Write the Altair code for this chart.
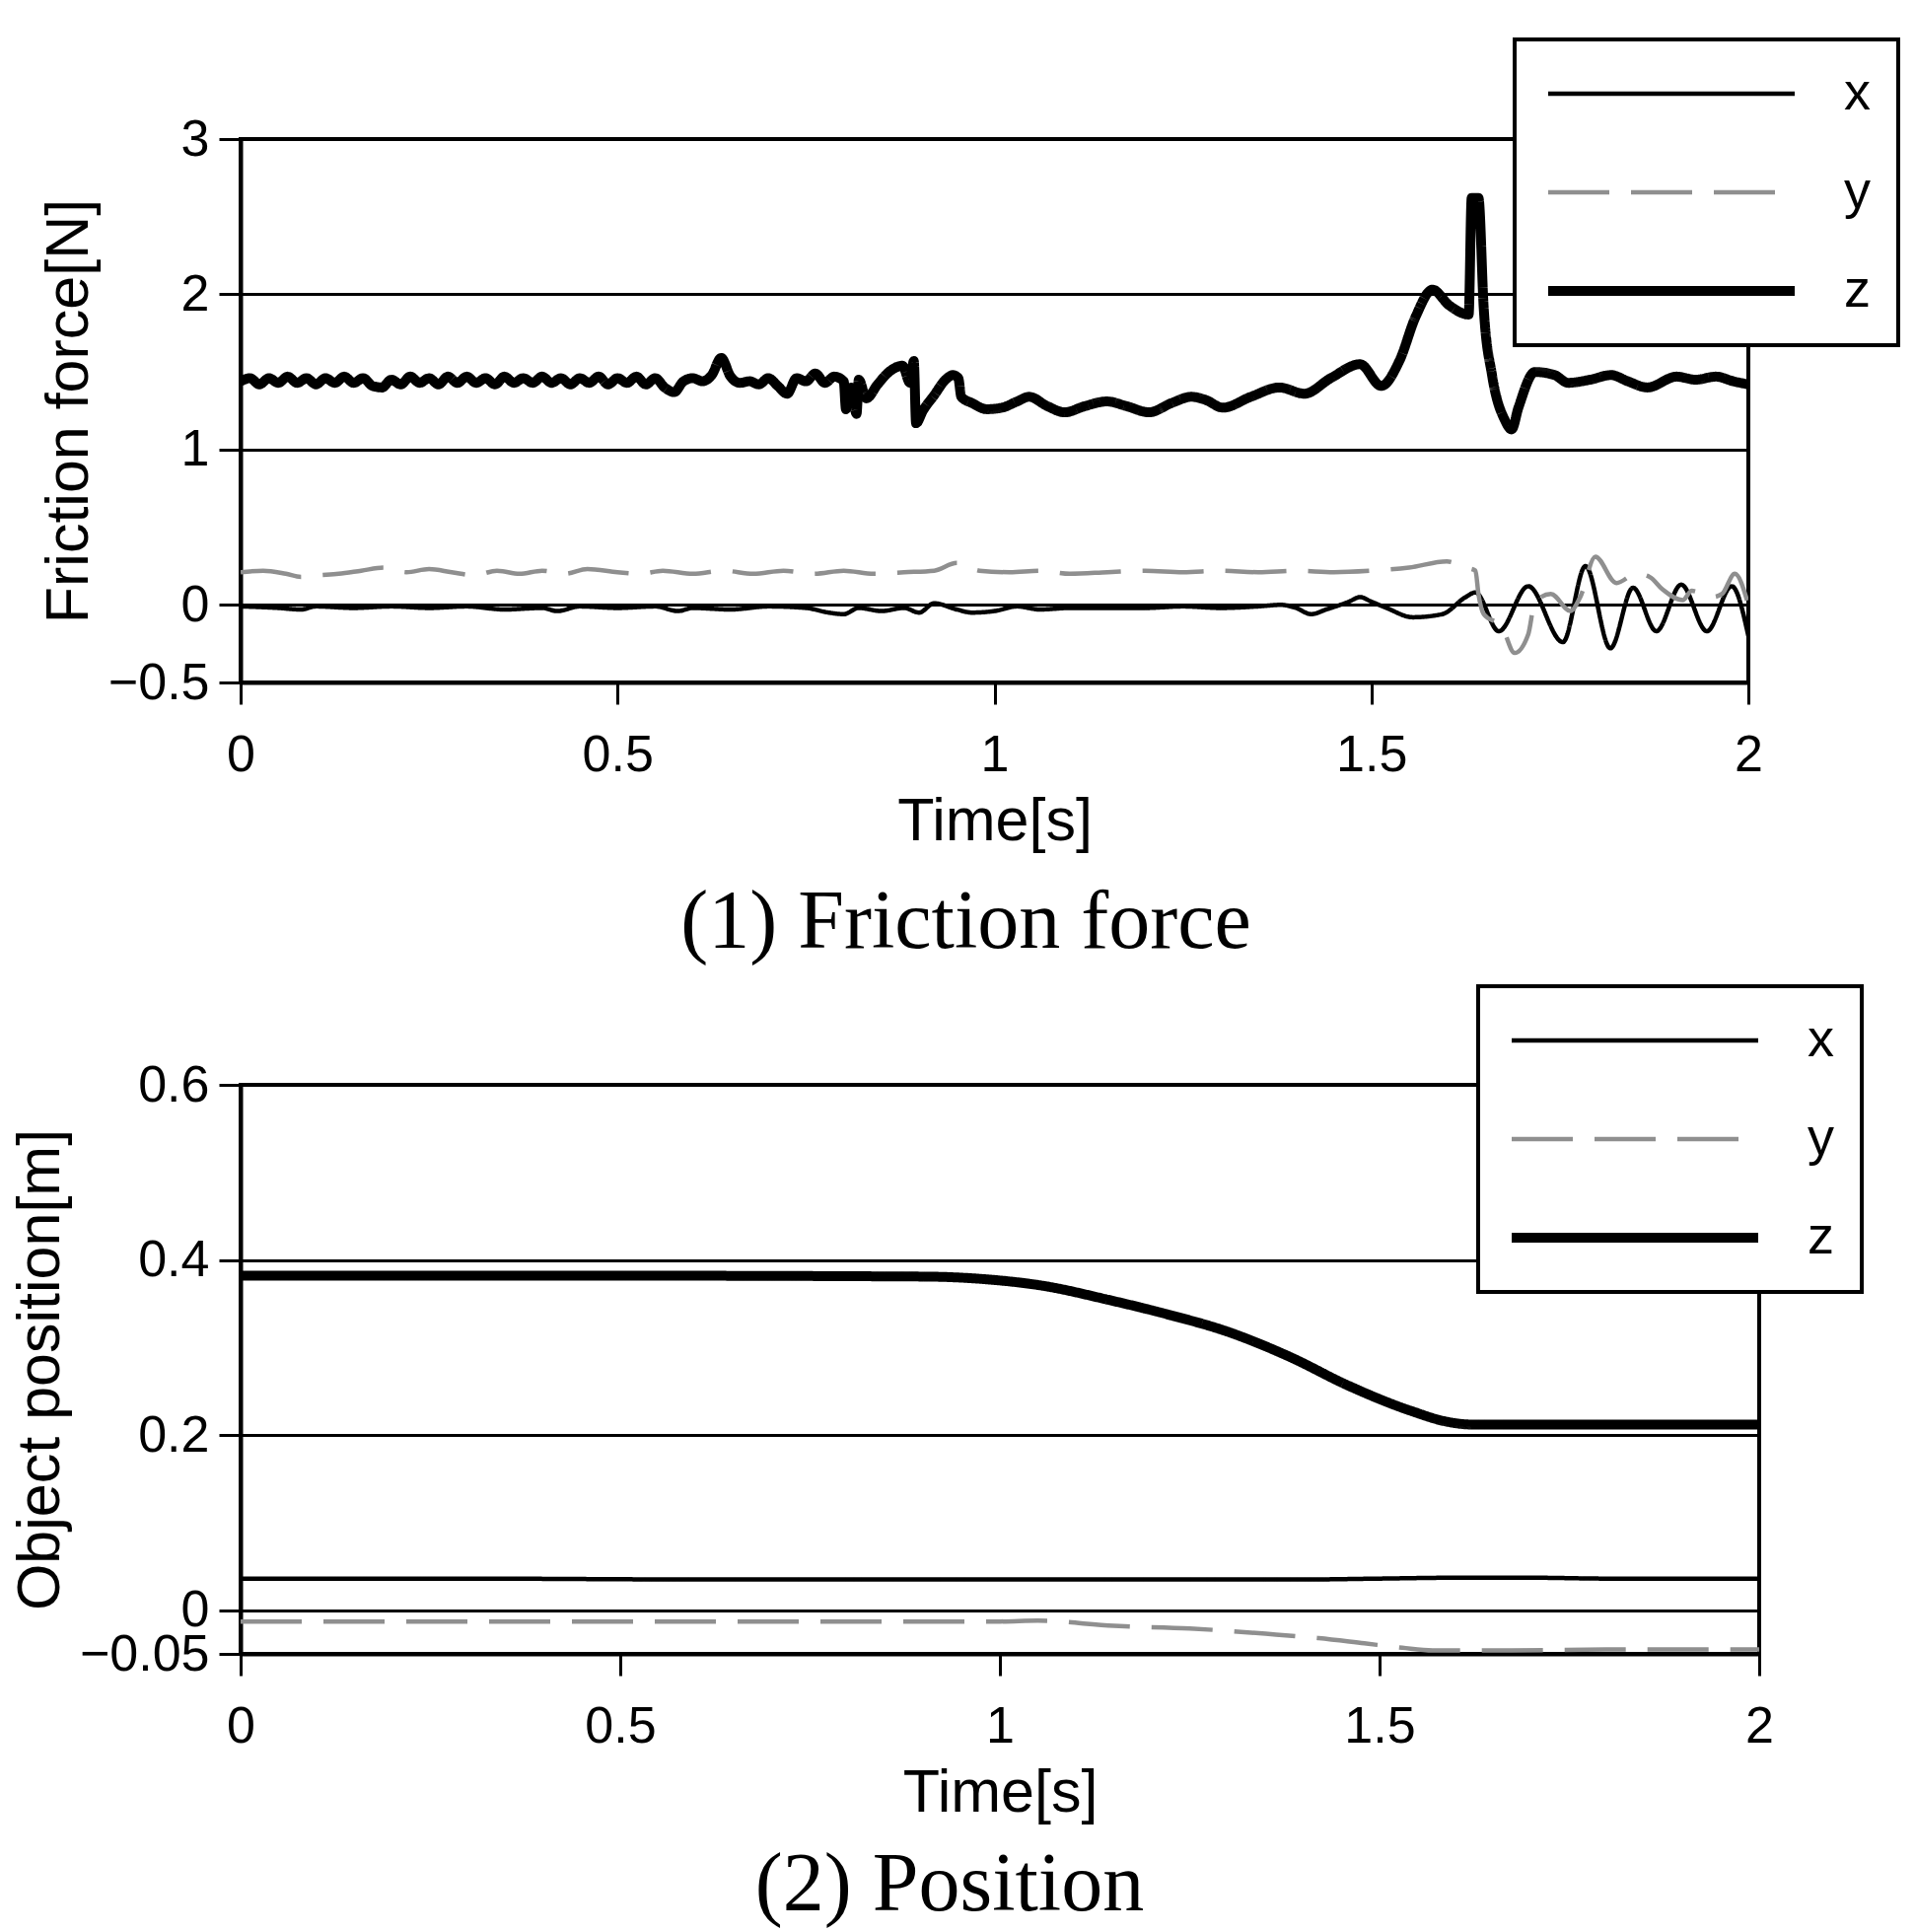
import altair as alt
import pandas as pd

SERIES = ["x", "y", "z"]
TIME_TICKS = [0, 0.5, 1, 1.5, 2]
FORCE_TICKS = [-0.5, 0, 1, 2, 3]
POS_TICKS = [-0.05, 0, 0.2, 0.4, 0.6]

# ---------------- (1) Friction force ----------------
# z component: dense ripple section (sampled every 0.0125 s) then irregular part
fz_t = [round(i * 0.0125, 4) for i in range(64)] + [
    0.80, 0.803, 0.81, 0.817, 0.82, 0.83, 0.845, 0.86, 0.878, 0.888,
    0.893, 0.896, 0.905, 0.92, 0.935, 0.945, 0.952, 0.956, 0.97, 0.99,
    1.01, 1.03, 1.046, 1.07, 1.093, 1.12, 1.149, 1.175, 1.205, 1.235,
    1.261, 1.28, 1.303, 1.34, 1.378, 1.411, 1.446, 1.485, 1.513, 1.537,
    1.559, 1.581, 1.603, 1.629, 1.633, 1.642, 1.649, 1.66, 1.677, 1.686,
    1.695, 1.717, 1.743, 1.761, 1.79, 1.818, 1.84, 1.866, 1.905, 1.93,
    1.957, 1.98, 2.0]
fz_v = [
    1.44, 1.46, 1.42, 1.46, 1.43, 1.47, 1.43, 1.46, 1.42, 1.46,
    1.43, 1.47, 1.43, 1.46, 1.41, 1.40, 1.45, 1.42, 1.47, 1.43,
    1.46, 1.42, 1.47, 1.43, 1.47, 1.43, 1.46, 1.42, 1.47, 1.43,
    1.46, 1.43, 1.47, 1.43, 1.46, 1.42, 1.46, 1.43, 1.47, 1.42,
    1.46, 1.43, 1.47, 1.42, 1.46, 1.40, 1.37, 1.44, 1.46, 1.44,
    1.48, 1.59, 1.47, 1.43, 1.44, 1.42, 1.46, 1.41, 1.36, 1.46,
    1.44, 1.49, 1.43, 1.47,
    1.44, 1.26, 1.40, 1.23, 1.45, 1.33, 1.42, 1.50, 1.54, 1.43,
    1.57, 1.17, 1.25, 1.35, 1.45, 1.48, 1.46, 1.34, 1.30, 1.26,
    1.27, 1.31, 1.34, 1.28, 1.24, 1.28, 1.31, 1.28, 1.24, 1.30,
    1.34, 1.32, 1.27, 1.34, 1.40, 1.36, 1.46, 1.55, 1.41, 1.57,
    1.86, 2.03, 1.93, 1.87, 2.62, 2.62, 1.91, 1.48, 1.19, 1.13,
    1.27, 1.50, 1.48, 1.43, 1.45, 1.48, 1.44, 1.40, 1.47, 1.45,
    1.47, 1.44, 1.42]

fx_t = [0, 0.05, 0.08, 0.1, 0.15, 0.2, 0.25, 0.3, 0.35, 0.4,
        0.42, 0.45, 0.5, 0.55, 0.58, 0.6, 0.65, 0.7, 0.75, 0.78,
        0.8, 0.82, 0.85, 0.88, 0.9, 0.92, 0.95, 0.97, 1.0, 1.03,
        1.06, 1.1, 1.15, 1.2, 1.25, 1.3, 1.35, 1.38, 1.4, 1.42,
        1.44, 1.47, 1.485, 1.5, 1.52, 1.555, 1.594, 1.625, 1.638, 1.669,
        1.708, 1.754, 1.784, 1.817, 1.847, 1.878, 1.911, 1.945, 1.978, 2.0]
fx_v = [-0.01, -0.02, -0.03, -0.01, -0.02, -0.01, -0.02, -0.01, -0.03, -0.02,
        -0.04, -0.01, -0.02, -0.01, -0.04, -0.02, -0.03, -0.01, -0.02, -0.05,
        -0.06, -0.02, -0.04, -0.02, -0.05, 0.01, -0.03, -0.05, -0.04, -0.01,
        -0.03, -0.02, -0.02, -0.02, -0.01, -0.02, -0.01, 0.0, -0.02, -0.06,
        -0.03, 0.02, 0.05, 0.02, -0.02, -0.08, -0.06, 0.05, 0.08, -0.17,
        0.12, -0.24, 0.25, -0.28, 0.11, -0.17, 0.13, -0.17, 0.12, -0.2]

fy_t = [0, 0.03, 0.06, 0.08, 0.1, 0.13, 0.16, 0.19, 0.22, 0.25,
        0.28, 0.31, 0.34, 0.37, 0.4, 0.43, 0.46, 0.5, 0.53, 0.56,
        0.6, 0.64, 0.68, 0.72, 0.76, 0.8, 0.84, 0.88, 0.92, 0.95,
        0.98, 1.02, 1.06, 1.1, 1.15, 1.2, 1.25, 1.3, 1.35, 1.4,
        1.45, 1.5, 1.55, 1.6, 1.625, 1.638, 1.642, 1.649, 1.673, 1.69,
        1.708, 1.717, 1.738, 1.764, 1.777, 1.797, 1.825, 1.851, 1.869, 1.886,
        1.913, 1.925, 1.952, 1.965, 1.982, 2.0]
fy_v = [0.21, 0.22, 0.20, 0.18, 0.19, 0.20, 0.22, 0.24, 0.21, 0.23,
        0.21, 0.19, 0.22, 0.20, 0.22, 0.20, 0.23, 0.21, 0.20, 0.22,
        0.20, 0.22, 0.20, 0.22, 0.20, 0.22, 0.20, 0.21, 0.22, 0.27,
        0.22, 0.21, 0.22, 0.20, 0.21, 0.22, 0.21, 0.22, 0.21, 0.22,
        0.21, 0.22, 0.24, 0.28, 0.24, 0.22, 0.07, -0.06, -0.14, -0.31,
        -0.19, 0.02, 0.07, -0.04, 0.05, 0.31, 0.14, 0.20, 0.18, 0.10,
        0.03, 0.09, 0.05, 0.07, 0.20, 0.0]

# ---------------- (2) Position ----------------
px_t = [0, 0.3, 0.6, 1.0, 1.4, 1.5, 1.6, 1.7, 1.8, 2.0]
px_v = [0.036, 0.036, 0.035, 0.035, 0.035, 0.036, 0.037, 0.037, 0.036, 0.036]

py_t = [0, 0.5, 1.0, 1.05, 1.15, 1.25, 1.35, 1.42, 1.48, 1.53, 1.57, 1.67, 1.8, 2.0]
py_v = [-0.013, -0.013, -0.013, -0.012, -0.018, -0.021, -0.027, -0.032, -0.038,
        -0.043, -0.046, -0.046, -0.045, -0.045]

pz_t = [0, 0.5, 0.9, 0.98, 1.06, 1.14, 1.22, 1.30, 1.38, 1.46, 1.54, 1.59, 1.62, 2.0]
pz_v = [0.382, 0.382, 0.381, 0.378, 0.370, 0.355, 0.338, 0.318, 0.290, 0.256,
        0.228, 0.215, 0.212, 0.212]


def long_table(parts):
    rows = []
    for name, ts, vs in parts:
        assert len(ts) == len(vs), name
        rows += [{"t": t, "v": v, "series": name} for t, v in zip(ts, vs)]
    return pd.DataFrame(rows)


force_df = long_table([("x", fx_t, fx_v), ("y", fy_t, fy_v), ("z", fz_t, fz_v)])
pos_df = long_table([("x", px_t, px_v), ("y", py_t, py_v), ("z", pz_t, pz_v)])


def panel(df, yticks, ytitle, caption, width, height, lx, ly, cap_dx, cap_offset):
    legend = alt.Legend(
        orient="none", legendX=lx, legendY=ly,
        symbolType="M-5,0H5", symbolSize=2500,
        symbolOffset=104, labelOffset=148,
        symbolStrokeWidth=alt.ExprRef(expr="datum.value === 'z' ? 10 : 4.5"),
        padding=28, rowPadding=46,
        labelFont="Liberation Sans", labelFontSize=54, labelColor="black",
        fillColor="white", strokeColor="black",
    )
    return alt.Chart(df).mark_line(interpolate="monotone", clip=True).encode(
        x=alt.X("t:Q", scale=alt.Scale(domain=[0, 2], nice=False, zero=False),
                axis=alt.Axis(values=TIME_TICKS, format="~g", title="Time[s]", grid=False)),
        y=alt.Y("v:Q", scale=alt.Scale(domain=[yticks[0], yticks[-1]], nice=False, zero=False),
                axis=alt.Axis(values=yticks, format="~g", title=ytitle, grid=True)),
        color=alt.Color("series:N", title=None,
                        scale=alt.Scale(domain=SERIES, range=["#000000", "#8f8f8f", "#000000"]),
                        legend=legend),
        strokeDash=alt.StrokeDash("series:N", title=None,
                                  scale=alt.Scale(domain=SERIES, range=[[1, 0], [62, 22], [1, 0]]),
                                  legend=legend),
        strokeWidth=alt.condition(alt.datum.series == "z", alt.value(10), alt.value(4.5)),
    ).properties(
        width=width, height=height,
        title=alt.TitleParams(text=caption, orient="bottom", anchor="middle", frame="group",
                              offset=cap_offset, dx=cap_dx, font="Liberation Serif",
                              fontSize=84, fontWeight="normal", color="black"),
    )


top = panel(force_df, FORCE_TICKS, "Friction force[N]", "(1) Friction force",
            1529, 551, 1292, -101, -29, 32)
bottom = panel(pos_df, POS_TICKS, "Object position[m]", "(2) Position",
               1540, 577, 1255, -100, -51, 23)

chart = alt.vconcat(top, bottom, spacing=408, bounds="flush").resolve_scale(
    color="independent", strokeDash="independent"
).resolve_legend(
    color="independent", strokeDash="independent"
).properties(
    padding={"left": 0, "top": 28, "right": 0, "bottom": 0}
).configure_view(
    stroke="black", strokeWidth=4
).configure_axis(
    domainColor="black", domainWidth=4, tickColor="black", tickWidth=3, tickSize=22,
    labelFont="Liberation Sans", labelFontSize=52, labelColor="black", labelPadding=10,
    titleFont="Liberation Sans", titleFontSize=61, titleFontWeight="normal",
    titleColor="black", titlePadding=8,
    gridColor="black", gridWidth=3, gridOpacity=1,
    labelFlush=False, labelOverlap=False,
).configure_axisX(
    labelPadding=26, titlePadding=12
).configure_legend(
    strokeWidth=4
)

chart.save("out.html", embed_options={"renderer": "svg", "actions": False})
